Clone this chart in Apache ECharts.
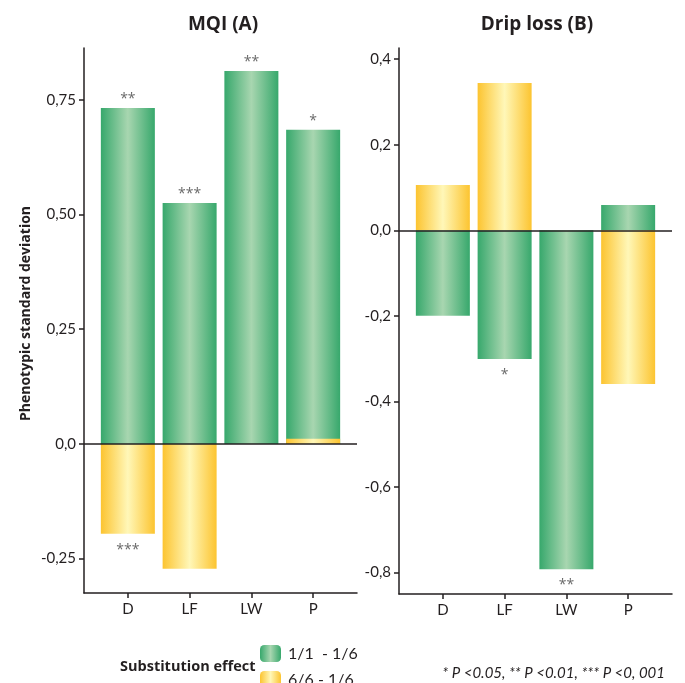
<!DOCTYPE html>
<html>
<head>
<meta charset="utf-8">
<script src="https://cdn.jsdelivr.net/npm/echarts@6/dist/echarts.min.js"></script>
<style>
  html, body { margin: 0; padding: 0; background: #fff; }
  #chart { width: 685px; height: 683px; }
</style>
</head>
<body>
<div id="chart"></div>
<script>
// categories and values
var categories = ['D', 'LF', 'LW', 'P'];
var catPos = [1, 2, 3, 4];

var mqiGreen = [0.732, 0.525, 0.813, 0.685];
var mqiYellow = [-0.196, -0.272, 0, 0.011];
var mqiSigGreen = ['**', '***', '**', '*'];
var mqiSigYellow = ['***', '', '', ''];

var dripGreen = [-0.200, -0.301, -0.792, 0.059];
var dripYellow = [0.106, 0.344, 0, -0.359];
var dripSigGreen = ['', '*', '**', ''];
var dripSigYellow = ['', '', '', ''];

var mqiTicks = [-0.25, 0, 0.25, 0.5, 0.75];
var mqiTickLabels = ['-0,25', '0,0', '0,25', '0,50', '0,75'];
var dripTicks = [-0.8, -0.6, -0.4, -0.2, 0, 0.2, 0.4];
var dripTickLabels = ['-0,8', '-0,6', '-0,4', '-0,2', '0,0', '0,2', '0,4'];

var seriesNames = ['1/1  - 1/6', '6/6 - 1/6'];

var FONT = 'Lato';
var BOLD = 'Open Sans';
var INK = '#231f20';

function grad(edge, mid) {
  return new echarts.graphic.LinearGradient(0, 0, 1, 0, [
    { offset: 0, color: edge },
    { offset: 0.5, color: mid },
    { offset: 1, color: edge }
  ]);
}
var greenFill = grad('#37a86c', '#a8d6b0');
var yellowFill = grad('#fcc430', '#fff7b8');

function pairs(vals) {
  return vals.map(function (v, i) { return [catPos[i], v]; });
}

function xAxisFor(idx) {
  return {
    gridIndex: idx, type: 'value', min: 0.29, max: 4.71,
    axisLine: { show: true, onZero: false, lineStyle: { color: INK, width: 1.5 } },
    axisTick: { show: true, customValues: catPos, length: 5, lineStyle: { color: INK, width: 1.5 } },
    axisLabel: {
      customValues: catPos, margin: 9, color: INK, fontFamily: FONT, fontSize: 15,
      formatter: function (v) { return categories[Math.round(v) - 1] || ''; }
    },
    splitLine: { show: false }
  };
}

function yAxisFor(idx, min, max, ticks, labels) {
  return {
    gridIndex: idx, type: 'value', min: min, max: max,
    axisLine: { show: true, onZero: false, lineStyle: { color: INK, width: 1.5 } },
    axisTick: { show: true, customValues: ticks, length: 5, lineStyle: { color: INK, width: 1.5 } },
    axisLabel: {
      customValues: ticks, margin: 8, color: INK, fontFamily: FONT, fontSize: 15,
      formatter: function (v) {
        for (var i = 0; i < ticks.length; i++) {
          if (Math.abs(ticks[i] - v) < 1e-6) return labels[i];
        }
        return '';
      }
    },
    splitLine: { show: false }
  };
}

function barSeries(name, idx, vals, fill, withZeroLine) {
  var s = {
    name: name, type: 'bar', xAxisIndex: idx, yAxisIndex: idx,
    data: pairs(vals), barWidth: 54, barGap: '-100%',
    itemStyle: { color: fill }, silent: true
  };
  if (withZeroLine) {
    s.markLine = {
      silent: true, symbol: ['none', 'none'], label: { show: false },
      lineStyle: { color: INK, width: 1.5, type: 'solid' },
      data: [{ yAxis: 0 }]
    };
  }
  return s;
}

function sigSeries(idx, vals, sig) {
  return {
    type: 'scatter', xAxisIndex: idx, yAxisIndex: idx, symbolSize: 0, silent: true,
    data: vals.map(function (v, i) {
      return {
        value: [catPos[i], v],
        label: {
          show: sig[i] !== '', formatter: sig[i],
          position: v >= 0 ? 'top' : 'bottom', distance: v >= 0 ? 1 : 8
        }
      };
    }),
    label: { color: '#444', fontFamily: BOLD, fontSize: 14, lineHeight: 16 }
  };
}

function legendFor(name, top) {
  return {
    orient: 'vertical', left: 260, top: top, padding: 0,
    itemWidth: 21, itemHeight: 17, itemGap: 9,
    data: [name],
    textStyle: { fontFamily: FONT, fontSize: 16, color: INK, padding: [0, 0, 0, 2] }
  };
}

var chart = echarts.init(document.getElementById('chart'));
chart.setOption({
  animation: false,
  title: [
    { text: 'MQI (A)', left: 218, top: 10, textAlign: 'center',
      textStyle: { fontFamily: BOLD, fontSize: 19, fontWeight: 'bold', color: INK } },
    { text: 'Drip loss (B)', left: 532, top: 10, textAlign: 'center',
      textStyle: { fontFamily: BOLD, fontSize: 19, fontWeight: 'bold', color: INK } },
    { text: 'Substitution effect', left: 115, top: 654,
      textStyle: { fontFamily: BOLD, fontSize: 14.5, fontWeight: 'bold', color: INK } },
    { text: '* P <0.05, ** P <0.01, *** P <0, 001', right: 15, top: 661,
      textStyle: { fontFamily: FONT, fontSize: 15, fontStyle: 'italic', fontWeight: 'normal', color: INK } }
  ],
  legend: [legendFor(seriesNames[0], 645), legendFor(seriesNames[1], 671)],
  grid: [
    { left: 84, top: 48, width: 273, height: 545 },
    { left: 399, top: 48, width: 273, height: 546 }
  ],
  xAxis: [xAxisFor(0), xAxisFor(1)],
  yAxis: [
    Object.assign(yAxisFor(0, -0.325, 0.863, mqiTicks, mqiTickLabels), {
      name: 'Phenotypic standard deviation', nameLocation: 'middle', nameGap: 51,
      nameTextStyle: { fontFamily: BOLD, fontSize: 14, fontWeight: 'bold', color: INK, padding: [0, 0, 0, 14] }
    }),
    yAxisFor(1, -0.85, 0.426, dripTicks, dripTickLabels)
  ],
  series: [
    barSeries(seriesNames[0], 0, mqiGreen, greenFill, true),
    barSeries(seriesNames[1], 0, mqiYellow, yellowFill, false),
    barSeries(seriesNames[0], 1, dripGreen, greenFill, true),
    barSeries(seriesNames[1], 1, dripYellow, yellowFill, false),
    sigSeries(0, mqiGreen, mqiSigGreen),
    sigSeries(0, mqiYellow, mqiSigYellow),
    sigSeries(1, dripGreen, dripSigGreen),
    sigSeries(1, dripYellow, dripSigYellow)
  ]
});
</script>
</body>
</html>
